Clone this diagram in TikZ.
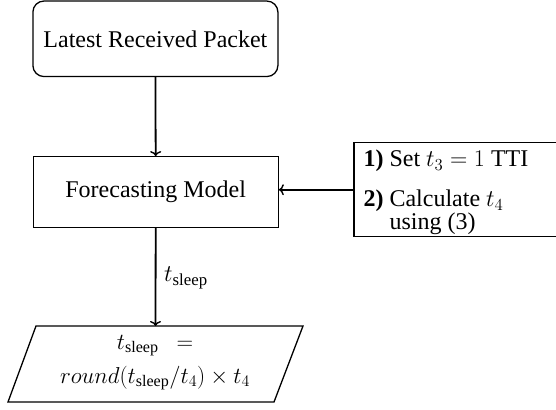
\RequirePackage{fix-cm}
\documentclass[tikz,border=0pt]{standalone}
\usepackage{amsmath}
\usepackage[no-math]{fontspec}
\setmainfont{Liberation Serif}
\usetikzlibrary{arrows.meta}
\tikzset{
  boxline/.style={draw, line width=1.3pt},
  flow/.style={line width=1.8pt, -{To[length=5pt,width=11pt,line width=1.4pt]}},
  mainfont/.style={font=\fontsize{24}{28}\selectfont},
  mathfont/.style={font=\fontsize{23}{27}\selectfont},
  smallfont/.style={font=\fontsize{24}{20}\selectfont}
}
\begin{document}
\begin{tikzpicture}[x=1pt,y=-1pt]
\useasboundingbox (0,0) rectangle (556,409);
% top box
\node[boxline, rounded corners=11pt, minimum width=245pt, minimum height=75.5pt, inner sep=0pt, mainfont] (packet) at (155.4,38.8) {Latest Received Packet};
% forecasting model
\node[boxline, minimum width=245pt, minimum height=70.5pt, inner sep=0pt, mainfont] (model) at (155.7,192) {Forecasting Model};
% steps box
\node[boxline, minimum width=210pt, minimum height=94pt, inner sep=0pt] (steps) at (459,189.7) {};
\node[anchor=west, inner sep=0pt, align=left, smallfont] (stepstext) at ([xshift=10pt,yshift=-3pt]steps.west)
  {\begin{tabular}{@{}l@{ }l@{}}\textbf{1)} & Set $t_3=1$ TTI\\[17pt]
   \textbf{2)} & Calculate $t_4$\\ & using (3)\end{tabular}};
% parallelogram
\coordinate (pa) at (36,326);
\coordinate (pb) at (303,326);
\coordinate (pc) at (274,402);
\coordinate (pd) at (8,402);
\draw[line width=1.3pt, line join=miter] (pa) -- (pb) -- (pc) -- (pd) -- cycle;
\coordinate (ptop) at (155.5,326);
\node[align=center, inner sep=0pt, mathfont] (calc) at (155,362.5)
  {$t_{\text{sleep}}\enspace=$\hspace{4pt}\\[7pt] $round(t_{\text{sleep}}/t_4)\times t_4$};
% connectors
\draw[flow] (packet.south) -- (model.north);
\draw[flow] (steps.west) -- (model.east |- steps.west);
\draw[flow] (model.south) -- (ptop);
\node[anchor=base west, inner sep=0pt, mainfont] (lbl) at (164,281.7) {$t_{\text{sleep}}$};
\end{tikzpicture}
\end{document}
